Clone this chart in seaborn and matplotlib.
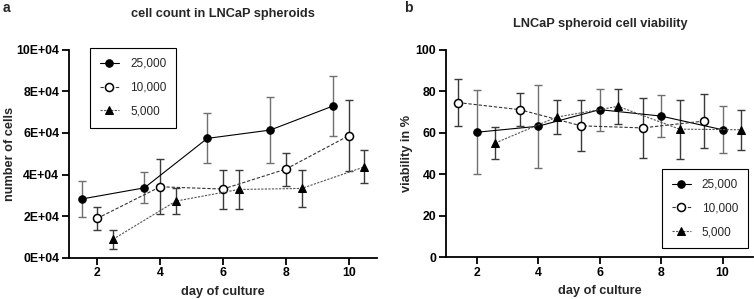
import numpy as np
import pandas as pd
import seaborn as sns
import matplotlib.pyplot as plt

# ---- data ----
days = [2, 4, 6, 8, 10]
series = ["25,000", "10,000", "5,000"]

# panel a: cell count (mean, sd)
count_25k = [28200, 33600, 57400, 61400, 73000]
count_25k_sd = [8500, 7500, 12000, 15800, 14600]
count_10k = [18900, 34100, 33000, 42600, 58700]
count_10k_sd = [5600, 13200, 9400, 8000, 17200]
count_5k = [8800, 27200, 32800, 33300, 43700]
count_5k_sd = [4500, 6400, 9600, 9100, 8000]
count_shift = [-0.5, 0.0, 0.5]
count_ticks = [0, 20000, 40000, 60000, 80000, 100000]
count_ticklabels = ["0E+04", "2E+04", "4E+04", "6E+04", "8E+04", "10E+04"]

# panel b: viability in % (mean, sd)
via_25k = [60.3, 63.2, 71.2, 68.1, 61.5]
via_25k_sd = [20.3, 20.0, 10.2, 10.2, 11.3]
via_10k = [74.6, 71.2, 63.4, 62.4, 65.7]
via_10k_sd = [11.5, 7.9, 12.3, 14.4, 13.2]
via_5k = [55.1, 67.6, 72.8, 61.8, 61.5]
via_5k_sd = [7.8, 8.2, 8.5, 14.2, 9.6]
via_shift = [0.0, -0.6, 0.6]
via_ticks = [0, 20, 40, 60, 80, 100]

sns.set_theme(style="ticks")
plt.rcParams['font.family'] = ['Liberation Sans', 'DejaVu Sans']

styles = [
    dict(color="black", marker="o", markersize=5.4, linestyle="-", lw=0.8,
         markerfacecolor="black", markeredgecolor="black"),
    dict(color="#333333", marker="o", markersize=5.8, linestyle=(0, (3, 1.6)), lw=0.8,
         markerfacecolor="white", markeredgecolor="black", markeredgewidth=1.1),
    dict(color="#555555", marker="^", markersize=5.4, linestyle=(0, (2, 1.2)), lw=0.8,
         markerfacecolor="black", markeredgecolor="black"),
]
err_colors = ["#707070", "#3a3a3a", "#3a3a3a"]


def draw(ax, means, sds, shifts):
    for i, name in enumerate(series):
        x = np.array(days) + shifts[i]
        ax.errorbar(x, means[i], yerr=sds[i], fmt="none", ecolor=err_colors[i],
                    elinewidth=1.0, capsize=2.6, capthick=1.0, zorder=2)
        df = pd.DataFrame({"day": x, "val": means[i]})
        sns.lineplot(data=df, x="day", y="val", ax=ax, label=name, zorder=3,
                     **styles[i])


def style_axes(ax, ylabel, ylab_x):
    sns.despine(ax=ax)
    for s in ["left", "bottom"]:
        ax.spines[s].set_linewidth(1.3)
        ax.spines[s].set_color("black")
    ax.tick_params(axis="both", direction="out", length=5, width=1.3, pad=2,
                   colors="black", labelsize=8.8)
    for lab in ax.get_xticklabels() + ax.get_yticklabels():
        lab.set_fontweight("bold")
    ax.set_xlabel("day of culture", fontsize=9.2, fontweight="bold", va="center")
    ax.xaxis.set_label_coords(0.5, -0.164)
    ax.set_ylabel(ylabel, fontsize=9.2, fontweight="bold", va="center")
    ax.yaxis.set_label_coords(ylab_x, 0.5)
    ax.grid(False)


def add_legend(ax, loc, anchor):
    leg = ax.legend(loc=loc, bbox_to_anchor=anchor, fontsize=8.5,
                    handlelength=1.6, handletextpad=0.95, labelspacing=1.0,
                    borderpad=0.85, borderaxespad=0, fancybox=False, framealpha=1)
    leg.get_frame().set_edgecolor("black")
    leg.get_frame().set_linewidth(0.8)


fig = plt.figure(figsize=(7.54, 2.99), dpi=100)
ax_a = fig.add_axes([0.0915, 0.1385, 0.4085, 0.6945])
ax_b = fig.add_axes([0.5915, 0.1395, 0.4075, 0.6935])

# panel a
draw(ax_a, [count_25k, count_10k, count_5k],
     [count_25k_sd, count_10k_sd, count_5k_sd], count_shift)
ax_a.set_xlim(1.1, 10.9)
ax_a.set_ylim(0, 100000)
ax_a.set_xticks(days)
ax_a.set_yticks(count_ticks)
ax_a.set_yticklabels(count_ticklabels)
style_axes(ax_a, "number of cells", -0.19)
add_legend(ax_a, "upper left", (0.068, 1.01))

# panel b
draw(ax_b, [via_25k, via_10k, via_5k],
     [via_25k_sd, via_10k_sd, via_5k_sd], via_shift)
ax_b.set_xlim(1, 11)
ax_b.set_ylim(0, 100)
ax_b.set_xticks(days)
ax_b.set_yticks(via_ticks)
style_axes(ax_b, "viability in %", -0.127)
add_legend(ax_b, "lower right", (0.984, 0.043))

# titles and panel letters
fig.text(0.296, 0.953, "cell count in LNCaP spheroids", ha="center", va="center",
         fontsize=9.2, fontweight="bold")
fig.text(0.796, 0.92, "LNCaP spheroid cell viability", ha="center", va="center",
         fontsize=9.2, fontweight="bold")
fig.text(0.004, 0.972, "a", ha="left", va="center", fontsize=10, fontweight="bold")
fig.text(0.536, 0.972, "b", ha="left", va="center", fontsize=10, fontweight="bold")

fig.savefig("out.png", dpi=100)
